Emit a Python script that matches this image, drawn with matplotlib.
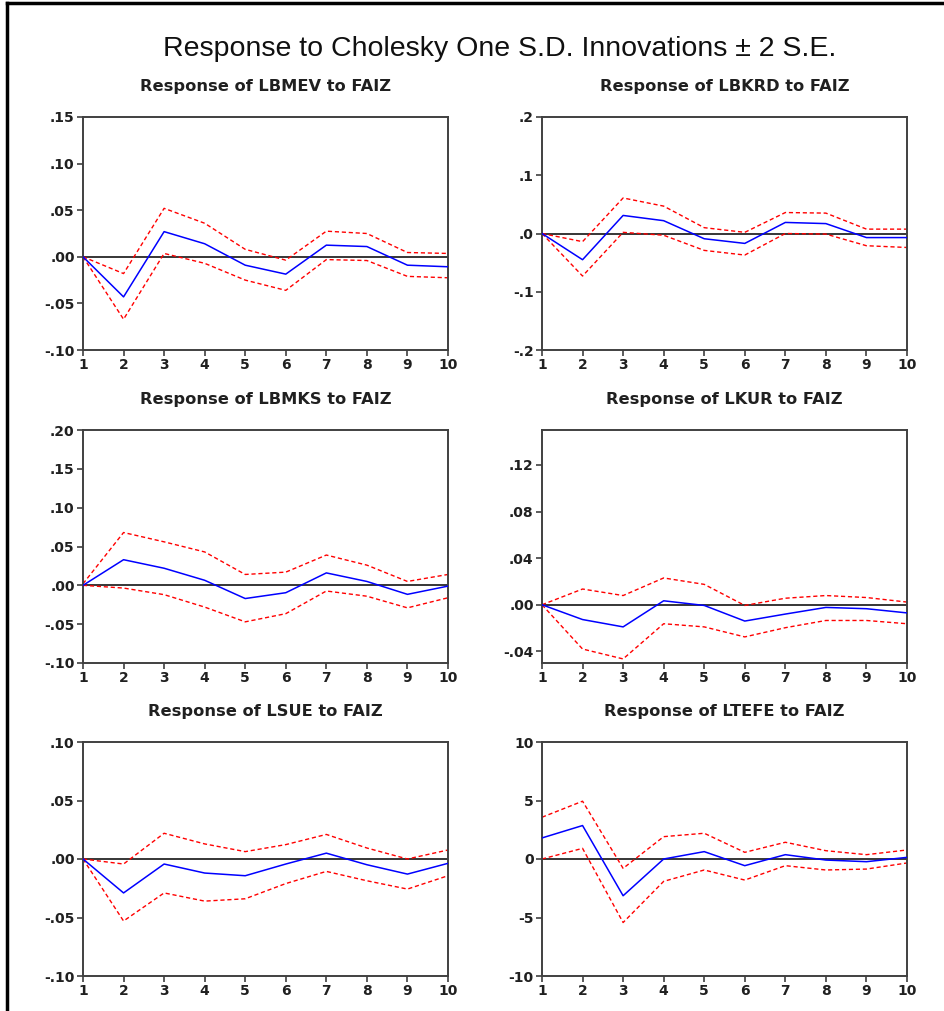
import matplotlib
matplotlib.use('Agg')
import matplotlib.pyplot as plt
import matplotlib.ticker as ticker
from matplotlib.lines import Line2D

plt.rcParams['font.family'] = ['Liberation Sans', 'DejaVu Sans']

periods = [1, 2, 3, 4, 5, 6, 7, 8, 9, 10]

titles = ['Response of LBMEV to FAIZ', 'Response of LBKRD to FAIZ',
          'Response of LBMKS to FAIZ', 'Response of LKUR to FAIZ',
          'Response of LSUE to FAIZ', 'Response of LTEFE to FAIZ']

lbmev = [0, -0.043, 0.027, 0.014, -0.009, -0.0186, 0.0125, 0.011, -0.009, -0.0107]
lbmev_up = [0, -0.018, 0.052, 0.036, 0.008, -0.0036, 0.0275, 0.025, 0.0046, 0.0036]
lbmev_lo = [0, -0.067, 0.0036, -0.007, -0.025, -0.036, -0.003, -0.004, -0.021, -0.0225]

lbkrd = [0, -0.045, 0.031, 0.022, -0.009, -0.017, 0.019, 0.017, -0.007, -0.007]
lbkrd_up = [0, -0.014, 0.061, 0.047, 0.010, 0.002, 0.036, 0.035, 0.0075, 0.0075]
lbkrd_lo = [0, -0.073, 0.002, -0.003, -0.029, -0.037, 0.0, -0.001, -0.021, -0.024]

lbmks = [0, 0.033, 0.022, 0.0065, -0.017, -0.0095, 0.016, 0.005, -0.0116, -0.001]
lbmks_up = [0.002, 0.068, 0.056, 0.043, 0.014, 0.017, 0.039, 0.026, 0.005, 0.014]
lbmks_lo = [0, -0.0035, -0.012, -0.028, -0.047, -0.0365, -0.0073, -0.014, -0.029, -0.016]

lkur = [0, -0.0127, -0.019, 0.0034, -0.0006, -0.014, -0.008, -0.0023, -0.0034, -0.007]
lkur_up = [0, 0.0135, 0.0079, 0.023, 0.0175, -0.0006, 0.0056, 0.0079, 0.0062, 0.0023]
lkur_lo = [0, -0.038, -0.0465, -0.0163, -0.019, -0.0276, -0.0197, -0.0135, -0.0135, -0.0163]

lsue = [0, -0.029, -0.0043, -0.012, -0.0143, -0.0043, 0.005, -0.0049, -0.0129, -0.0037]
lsue_up = [0, -0.0043, 0.022, 0.0129, 0.0063, 0.0123, 0.021, 0.0094, 0.0, 0.0077]
lsue_lo = [0, -0.053, -0.029, -0.036, -0.034, -0.021, -0.0106, -0.0186, -0.0257, -0.0143]

ltefe = [1.8, 2.86, -3.14, 0.0, 0.63, -0.57, 0.37, -0.09, -0.23, 0.14]
ltefe_up = [3.57, 4.94, -0.8, 1.91, 2.2, 0.57, 1.43, 0.71, 0.37, 0.77]
ltefe_lo = [0.0, 0.91, -5.43, -1.91, -0.94, -1.8, -0.57, -0.94, -0.86, -0.34]

series = [(lbmev, lbmev_up, lbmev_lo), (lbkrd, lbkrd_up, lbkrd_lo),
          (lbmks, lbmks_up, lbmks_lo), (lkur, lkur_up, lkur_lo),
          (lsue, lsue_up, lsue_lo), (ltefe, ltefe_up, ltefe_lo)]

ylims = [(-0.10, 0.15), (-0.2, 0.2), (-0.10, 0.20), (-0.05, 0.15),
         (-0.10, 0.10), (-10, 10)]
yticks = [[-0.10, -0.05, 0.0, 0.05, 0.10, 0.15],
          [-0.2, -0.1, 0.0, 0.1, 0.2],
          [-0.10, -0.05, 0.0, 0.05, 0.10, 0.15, 0.20],
          [-0.04, 0.0, 0.04, 0.08, 0.12],
          [-0.10, -0.05, 0.0, 0.05, 0.10],
          [-10, -5, 0, 5, 10]]
ydigits = [2, 1, 2, 2, 2, None]


def fmt_eviews(decimals):
    def f(v, pos):
        if decimals is None:
            return '%d' % round(v)
        s = '%.*f' % (decimals, v)
        if s.startswith('-0'):
            s = '-' + s[2:]
        elif s.startswith('0'):
            s = s[1:]
        return s
    return ticker.FuncFormatter(f)


W, H = 944, 1011
fig = plt.figure(figsize=(W / 100, H / 100), dpi=100)

# axes boxes in pixels: (left, right) and (top, bottom)
lefts = [(83, 448), (542, 907)]
rows = [(117, 350), (430, 663), (742, 976)]

spine_col = '#404040'
text_col = '#202020'
for i in range(6):
    r, c = divmod(i, 2)
    x0, x1 = lefts[c]
    y0, y1 = rows[r]
    ax = fig.add_axes([x0 / W, 1 - y1 / H, (x1 - x0) / W, (y1 - y0) / H])
    resp, up, lo = series[i]
    ax.axhline(0, color='black', linewidth=1.1, zorder=1)
    ax.plot(periods, up, color='red', linewidth=1.0, linestyle=(0, (3, 2)), zorder=2)
    ax.plot(periods, lo, color='red', linewidth=1.0, linestyle=(0, (3, 2)), zorder=2)
    ax.plot(periods, resp, color='blue', linewidth=1.1, zorder=3)
    ax.set_xlim(1, 10)
    ax.set_ylim(*ylims[i])
    ax.set_xticks(periods)
    ax.set_yticks(yticks[i])
    ax.yaxis.set_major_formatter(fmt_eviews(ydigits[i]))
    for sp in ax.spines.values():
        sp.set_color(spine_col)
        sp.set_linewidth(1.4)
    ax.tick_params(direction='out', length=4, width=1.2, color=spine_col, pad=2)
    for lab in ax.get_xticklabels() + ax.get_yticklabels():
        lab.set_family('DejaVu Sans')
        lab.set_fontweight('bold')
        lab.set_fontsize(10)
        lab.set_color(text_col)
    ax.set_title(titles[i], family='DejaVu Sans', fontsize=11.7, fontweight='bold',
                 color=text_col, pad=19)

fig.text(500 / W, 1 - 49 / H, 'Response to Cholesky One S.D. Innovations \u00b1 2 S.E.',
         ha='center', va='center', fontsize=20.5, color='#101010')

# outer frame (left and top edges visible)
fig.add_artist(Line2D([7 / W, 7 / W], [0, 1 - 3 / H], transform=fig.transFigure,
                      color='black', linewidth=2.5))
fig.add_artist(Line2D([7 / W, 1], [1 - 3 / H, 1 - 3 / H], transform=fig.transFigure,
                      color='black', linewidth=2.5))

fig.savefig('out.png', dpi=100)
